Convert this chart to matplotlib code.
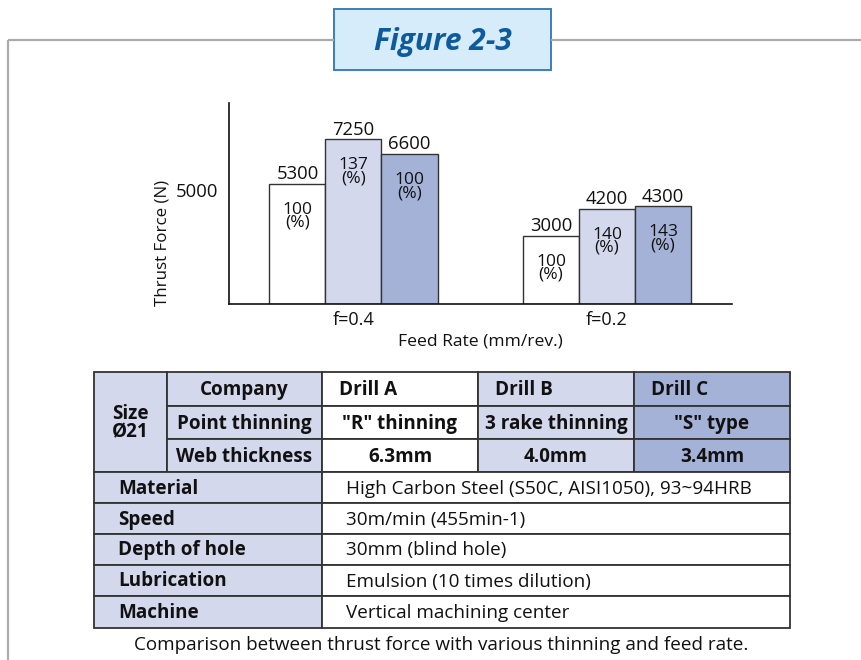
import matplotlib
matplotlib.use("Agg")
import matplotlib.pyplot as plt
from matplotlib.patches import Rectangle
import numpy as np

plt.rcParams['font.family'] = ['Open Sans', 'DejaVu Sans']

# ---- data ----
feed_rates = ["f=0.4", "f=0.2"]
drills = ["Drill A", "Drill B", "Drill C"]
thrust_a = [5300, 3000]
thrust_b = [7250, 4200]
thrust_c = [6600, 4300]
ratio_a = [100, 100]
ratio_b = [137, 140]
ratio_c = [100, 143]
y_ticks = [5000]

point_thinning = ['"R" thinning', "3 rake thinning", '"S" type']
web_thickness = ["6.3mm", "4.0mm", "3.4mm"]
cond_labels = ["Material", "Speed", "Depth of hole", "Lubrication", "Machine"]
cond_values = ["High Carbon Steel (S50C, AISI1050), 93~94HRB",
               "30m/min (455min-1)",
               "30mm (blind hole)",
               "Emulsion (10 times dilution)",
               "Vertical machining center"]

# ---- styles ----
W, H = 862, 660
DPI = 100
bar_colors = ["#ffffff", "#d4d8ec", "#a5b2d7"]
edge = "#333333"
lav = "#d4d8ec"
dark_lav = "#a5b2d7"
ink = "#111111"

fig = plt.figure(figsize=(W / DPI, H / DPI), dpi=DPI)
fig.patch.set_facecolor("white")

# overlay axes in pixel coordinates for frame, title and table
ov = fig.add_axes([0, 0, 1, 1])
ov.set_xlim(0, W)
ov.set_ylim(H, 0)
ov.axis("off")

# frame lines
frame_c = "#aaaaaa"
ov.plot([8, 334], [40, 40], color=frame_c, lw=1.6, solid_capstyle="butt")
ov.plot([551, W], [40, 40], color=frame_c, lw=1.6, solid_capstyle="butt")
ov.plot([8, 8], [40, H], color=frame_c, lw=1.6, solid_capstyle="butt")

# title box
ov.add_patch(Rectangle((334, 9), 217, 61, facecolor="#d6ecfa",
                       edgecolor="#3b7dbf", lw=1.4))
ov.text(442.5, 42, "Figure 2-3", ha="center", va="center", fontsize=21.5,
        fontweight="bold", fontstyle="italic", color="#0d5a9e")

# ---- bar chart ----
ax_l, ax_r, ax_t, ax_b = 229, 732, 103, 304
ax = fig.add_axes([ax_l / W, 1 - ax_b / H, (ax_r - ax_l) / W, (ax_b - ax_t) / H])
ax.set_facecolor("none")
x = np.arange(len(feed_rates))
bw = 0.221
ax.set_xlim(-0.491, 1.493)
ax.set_ylim(0, 8850)

series = [thrust_a, thrust_b, thrust_c]
ratios = [ratio_a, ratio_b, ratio_c]
for i, (vals, rts) in enumerate(zip(series, ratios)):
    xs = x + (i - 1) * bw
    ax.bar(xs, vals, width=bw, color=bar_colors[i], edgecolor=edge, lw=1.0,
           zorder=2)
    for xi, v, r in zip(xs, vals, rts):
        ax.annotate(f"{v}", (xi, v), xytext=(0, 0.5), textcoords="offset points",
                    ha="center", va="bottom", fontsize=13.3, color=ink)
        ax.annotate(f"{r}\n(%)", (xi, v), xytext=(0, -13),
                    textcoords="offset points", ha="center", va="top",
                    fontsize=12.5, linespacing=0.75, color=ink)

for s in ["top", "right"]:
    ax.spines[s].set_visible(False)
for s in ["left", "bottom"]:
    ax.spines[s].set_color(ink)
    ax.spines[s].set_linewidth(1.2)
ax.set_yticks(y_ticks)
ax.set_yticklabels([str(t) for t in y_ticks], fontsize=13.3, color=ink)
ax.tick_params(axis="y", length=0, pad=8)
ax.set_xticks(x)
ax.set_xticklabels(feed_rates, fontsize=13, color=ink)
ax.tick_params(axis="x", length=0, pad=5)

ov.text(480.5, 341, "Feed Rate (mm/rev.)", ha="center", va="center",
        fontsize=12.6, color=ink)
ov.text(163, 243, "Thrust Force (N)", ha="center", va="center", rotation=90,
        fontsize=12.2, color=ink)

# ---- table ----
c_size, c_lab, c_a, c_b, c_c, c_end = 94, 167, 322, 478, 634, 790
top_rows = [372, 406, 439, 472]
low_rows = [472, 503, 534, 565, 596, 628]
tfs = 13.6


def cell(x0, y0, x1, y1, fc):
    ov.add_patch(Rectangle((x0, y0), x1 - x0, y1 - y0, facecolor=fc,
                           edgecolor=edge, lw=1.3, zorder=3))


# header block
cell(c_size, top_rows[0], c_lab, top_rows[3], lav)
ov.text((c_size + c_lab) / 2, (top_rows[0] + top_rows[3]) / 2 + 1, "Size\nØ21",
        ha="center", va="center", multialignment="left", fontsize=tfs,
        fontweight="bold", linespacing=0.9, color=ink, zorder=4)
head_labels = ["Company", "Point thinning", "Web thickness"]
col_x = [c_a, c_b, c_c, c_end]
col_fc = ["#ffffff", lav, dark_lav]
for r in range(3):
    y0, y1 = top_rows[r], top_rows[r + 1]
    yc = (y0 + y1) / 2 + 1
    cell(c_lab, y0, c_a, y1, lav)
    ov.text((c_lab + c_a) / 2, yc, head_labels[r], ha="center", va="center",
            fontsize=tfs, fontweight="bold", color=ink, zorder=4)
    for j in range(3):
        cell(col_x[j], y0, col_x[j + 1], y1, col_fc[j])
        if r == 0:
            ov.text(col_x[j] + 17, yc, drills[j], ha="left", va="center",
                    fontsize=tfs, fontweight="bold", color=ink, zorder=4)
        else:
            txt = point_thinning[j] if r == 1 else web_thickness[j]
            ov.text((col_x[j] + col_x[j + 1]) / 2, yc, txt, ha="center",
                    va="center", fontsize=tfs, fontweight="bold",
                    color=ink, zorder=4)

# condition rows
for r in range(len(cond_labels)):
    y0, y1 = low_rows[r], low_rows[r + 1]
    yc = (y0 + y1) / 2 + 1
    cell(c_size, y0, c_a, y1, lav)
    cell(c_a, y0, c_end, y1, "#ffffff")
    ov.text(c_size + 24, yc, cond_labels[r], ha="left", va="center",
            fontsize=tfs, fontweight="bold", color=ink, zorder=4)
    ov.text(c_a + 24, yc, cond_values[r], ha="left", va="center",
            fontsize=tfs, color=ink, zorder=4)

ov.text(441, 645, "Comparison between thrust force with various thinning and feed rate.",
        ha="center", va="center", fontsize=13.6, color=ink)

fig.savefig("out.png", dpi=DPI, facecolor="white")
